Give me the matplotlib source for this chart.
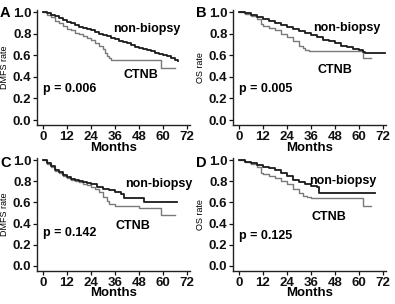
import numpy as np
import matplotlib
matplotlib.use("Agg")
import matplotlib.pyplot as plt

plt.rcParams.update({"font.family": ["Liberation Sans", "DejaVu Sans"], "font.size": 9,
                     "font.weight": "bold"})

# --- panel A: DMFS, all patients ---
a_nb_t = [0, 2, 4, 6, 8, 10, 12, 14, 16, 18, 20, 22, 24, 26, 28, 30, 32, 34, 36, 38, 40, 42, 44,
          46, 48, 50, 52, 54, 56, 58, 60, 62, 64, 66, 67.5]
a_nb_s = [1.0, .99, .975, .96, .945, .93, .91, .895, .88, .865, .85, .84, .83, .815, .80, .785, .775,
          .76, .75, .735, .72, .71, .695, .68, .665, .655, .645, .635, .625, .615, .60, .59, .575, .555, .545]
a_ct_t = [0, 2, 4, 6, 8, 10, 12, 14, 16, 18, 20, 22, 24, 26, 28, 30, 31, 32, 33, 34, 59, 66]
a_ct_s = [1.0, .975, .95, .92, .895, .87, .845, .83, .81, .795, .78, .76, .74, .715, .69, .655, .62,
          .595, .575, .56, .485, .485]

# --- panel B: OS, all patients ---
b_nb_t = [0, 3, 6, 9, 12, 15, 18, 21, 24, 27, 30, 33, 36, 39, 42, 45, 48, 51, 54, 57, 60, 62, 63, 73]
b_nb_s = [1.0, .99, .975, .955, .935, .92, .90, .88, .865, .845, .825, .805, .785, .765, .745, .73,
          .71, .69, .675, .66, .645, .63, .62, .62]
b_ct_t = [0, 3, 6, 9, 11, 12, 15, 18, 21, 24, 27, 30, 32, 33, 35, 62, 66]
b_ct_s = [1.0, .98, .96, .935, .89, .875, .85, .83, .80, .77, .73, .69, .665, .65, .64, .57, .57]

# --- panel C: DMFS, matched ---
c_nb_t = [0, 2, 4, 6, 8, 10, 12, 14, 16, 18, 20, 22, 24, 27, 30, 33, 36, 39, 40.5, 50.5, 67]
c_nb_s = [1.0, .97, .94, .91, .885, .86, .84, .825, .81, .80, .79, .78, .77, .75, .73, .72, .70,
          .68, .64, .60, .60]
c_ct_t = [0, 2, 4, 6, 8, 10, 12, 14, 16, 18, 20, 22, 24, 26, 28, 30, 32, 33, 36, 48, 59, 66]
c_ct_s = [1.0, .96, .93, .90, .875, .85, .83, .815, .80, .79, .775, .765, .75, .73, .70, .655, .61,
          .585, .565, .55, .48, .48]

# --- panel D: OS, matched ---
d_nb_t = [0, 3, 6, 9, 12, 15, 18, 21, 24, 27, 30, 33, 36, 39, 40, 68]
d_nb_s = [1.0, .985, .97, .955, .935, .92, .905, .875, .845, .815, .79, .77, .755, .75, .685, .685]
d_ct_t = [0, 3, 6, 9, 11, 12, 15, 18, 21, 24, 27, 30, 32, 34, 36, 62, 66]
d_ct_s = [1.0, .98, .96, .935, .88, .87, .85, .83, .80, .77, .73, .69, .665, .65, .64, .57, .57]

letters = ["A", "B", "C", "D"]
ylabels = ["DMFS rate", "OS rate", "DMFS rate", "OS rate"]
pvals = ["p = 0.006", "p = 0.005", "p = 0.142", "p = 0.125"]
nb_pos = [(52, .84), (54, .85), (58, .77), (52, .80)]
ct_pos = [(49, .42), (48, .46), (45, .38), (45, .46)]
p_pos = [(0, .29), (0, .29), (0, .31), (0, .28)]
curves = [(a_nb_t, a_nb_s, a_ct_t, a_ct_s), (b_nb_t, b_nb_s, b_ct_t, b_ct_s),
          (c_nb_t, c_nb_s, c_ct_t, c_ct_s), (d_nb_t, d_nb_s, d_ct_t, d_ct_s)]

W, H = 395, 304
rects = [(37 / W, 0.5875, 153 / W, 0.380), (233 / W, 0.5875, 153 / W, 0.380),
         (37 / W, 0.1076, 153 / W, 0.373), (233 / W, 0.1076, 153 / W, 0.373)]
lab_xy = [(0, 1 - 13 / H), (196 / W, 1 - 13 / H), (0, 1 - 163 / H), (196 / W, 1 - 163 / H)]

fig = plt.figure(figsize=(W / 100, H / 100), dpi=100)
for i in range(4):
    ax = fig.add_axes(rects[i])
    nbt, nbs, ctt, cts = curves[i]
    ax.step(ctt, cts, where="post", color="#7a7a7a", lw=1.0)
    ax.step(nbt, nbs, where="post", color="#1a1a1a", lw=1.3)
    ax.set_xlim(-3, 73.5)
    ax.set_ylim(-0.05, 1.02)
    ax.set_xticks(range(0, 73, 12))
    ax.set_yticks(np.arange(0, 1.01, 0.2))
    ax.yaxis.set_major_formatter(matplotlib.ticker.FormatStrFormatter("%.1f"))
    for s in ["top", "right"]:
        ax.spines[s].set_visible(False)
    for s in ["left", "bottom"]:
        ax.spines[s].set_linewidth(1.0)
        ax.spines[s].set_color("#222222")
    ax.tick_params(length=3, width=0.9, pad=1, labelsize=9.5, colors="#111111")
    ax.set_xlabel("Months", fontsize=9.5, fontweight="bold", labelpad=-1)
    ax.set_ylabel(ylabels[i], fontsize=6.5, fontweight="normal", labelpad=3)
    ax.text(*nb_pos[i], "non-biopsy", fontsize=9, ha="center", va="center")
    ax.text(*ct_pos[i], "CTNB", fontsize=9, ha="center", va="center")
    ax.text(*p_pos[i], pvals[i], fontsize=9, ha="left", va="center")
    fig.text(*lab_xy[i], letters[i], fontsize=10.5, fontweight="bold", va="center")

fig.savefig("out.png", dpi=100)
